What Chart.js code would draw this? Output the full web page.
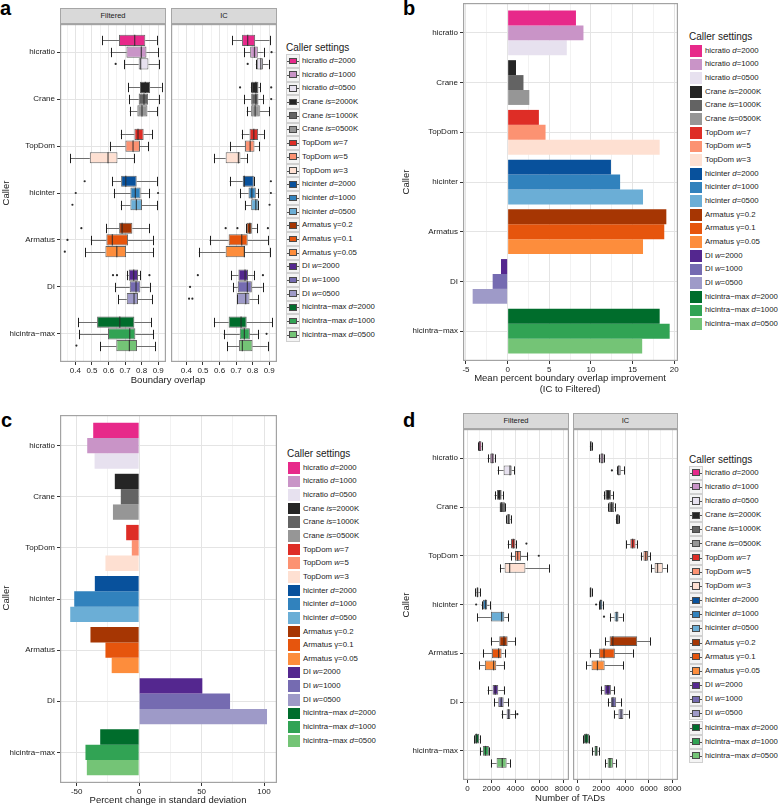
<!DOCTYPE html>
<html>
<head>
<meta charset="utf-8">
<title>TAD callers: boundary overlap, variability and TAD counts</title>
<script src="https://cdn.jsdelivr.net/npm/chart.js@4.4.1/dist/chart.umd.min.js"></script>
<style>
  body { margin: 0; width: 778px; height: 805px; position: relative; overflow: hidden; background: #fff;
         font-family: "Liberation Sans", Arial, sans-serif; color: #1a1a1a; }
  canvas, .txt, .ltxt, .strip, .key { position: absolute; }
  .letter { position: absolute; font-weight: bold; font-size: 20px; line-height: 20px; color: #000; }
  .txt { white-space: nowrap; line-height: 1; transform: translate(-50%, -50%); }
  .rot { transform: translate(-50%, -50%) rotate(-90deg); }
  .ltxt { white-space: nowrap; line-height: 1; transform: translateY(-50%); }
  .strip { background: #d9d9d9; border: 1px solid #a6a6a6; box-sizing: border-box; height: 16px;
           font-size: 7.5px; line-height: 14px; text-align: center; }
  .key { width: 14px; box-sizing: border-box; }
</style>
</head>
<body>
<div class="letter" style="left:0;top:-2px">a</div>
<div class="letter" style="left:403px;top:-2px">b</div>
<div class="letter" style="left:1px;top:410px">c</div>
<div class="letter" style="left:403px;top:410px">d</div>

<div class="strip" style="left:60px;top:8px;width:106px">Filtered</div>
<div class="strip" style="left:171px;top:8px;width:106px">IC</div>
<div class="strip" style="left:463px;top:413px;width:106px">Filtered</div>
<div class="strip" style="left:573px;top:413px;width:105px">IC</div>

<canvas id="aFilt" width="172" height="356" style="left:0;top:24px"></canvas>
<canvas id="aIC" width="112" height="356" style="left:171px;top:24px"></canvas>
<canvas id="bChart" width="296" height="375" style="left:390px;top:0"></canvas>
<canvas id="cChart" width="285" height="385" style="left:0;top:412px"></canvas>
<canvas id="dFilt" width="185" height="365" style="left:390px;top:429px"></canvas>
<canvas id="dIC" width="112" height="365" style="left:573px;top:429px"></canvas>

<div class="txt" style="left:168px;top:380px;font-size:9.5px">Boundary overlap</div>
<div class="txt" style="left:570px;top:378px;font-size:9.5px">Mean percent boundary overlap improvement</div>
<div class="txt" style="left:570px;top:389px;font-size:9.5px">(IC to Filtered)</div>
<div class="txt" style="left:168px;top:800px;font-size:9.5px">Percent change in standard deviation</div>
<div class="txt" style="left:570px;top:798px;font-size:9.5px">Number of TADs</div>
<div class="txt rot" style="left:6px;top:193px;font-size:9.5px">Caller</div>
<div class="txt rot" style="left:406px;top:182px;font-size:9.5px">Caller</div>
<div class="txt rot" style="left:6px;top:598px;font-size:9.5px">Caller</div>
<div class="txt rot" style="left:406px;top:605px;font-size:9.5px">Caller</div>

<script>
const callers = ['hicratio', 'Crane', 'TopDom', 'hicinter', 'Armatus', 'DI', 'hicintra\u2212max'];

// three settings per caller, in the order they are dodged (top to bottom)
const settingNames = [
  'hicratio <i>d</i>=2000', 'hicratio <i>d</i>=1000', 'hicratio <i>d</i>=0500',
  'Crane <i>is</i>=2000K', 'Crane <i>is</i>=1000K', 'Crane <i>is</i>=0500K',
  'TopDom <i>w</i>=7', 'TopDom <i>w</i>=5', 'TopDom <i>w</i>=3',
  'hicinter <i>d</i>=2000', 'hicinter <i>d</i>=1000', 'hicinter <i>d</i>=0500',
  'Armatus \u03b3=0.2', 'Armatus \u03b3=0.1', 'Armatus \u03b3=0.05',
  'DI <i>w</i>=2000', 'DI <i>w</i>=1000', 'DI <i>w</i>=0500',
  'hicintra\u2212max <i>d</i>=2000', 'hicintra\u2212max <i>d</i>=1000', 'hicintra\u2212max <i>d</i>=0500'
];
const settingColors = [
  '#e7298a', '#c994c7', '#e7e1ef',
  '#252525', '#636363', '#969696',
  '#de2d26', '#fc9272', '#fee0d2',
  '#08519c', '#3182bd', '#6baed6',
  '#a63603', '#e6550d', '#fd8d3c',
  '#54278f', '#756bb1', '#9e9ac8',
  '#006d2c', '#31a354', '#74c476'
];

// a: boundary overlap, [low whisker, q1, median, q3, high whisker] per setting
const overlapFiltered = [
  [0.563, 0.663, 0.758, 0.822, 0.891], [0.613, 0.708, 0.798, 0.829, 0.899], [0.694, 0.782, 0.794, 0.841, 0.905],
  [0.718, 0.790, 0.822, 0.851, 0.921], [0.724, 0.782, 0.814, 0.839, 0.905], [0.728, 0.774, 0.802, 0.835, 0.895],
  [0.674, 0.756, 0.778, 0.812, 0.863], [0.609, 0.702, 0.748, 0.790, 0.839], [0.370, 0.487, 0.597, 0.654, 0.754],
  [0.621, 0.676, 0.704, 0.770, 0.891], [0.631, 0.732, 0.762, 0.794, 0.843], [0.674, 0.732, 0.768, 0.802, 0.895],
  [0.587, 0.664, 0.682, 0.744, 0.843], [0.493, 0.587, 0.623, 0.718, 0.867], [0.460, 0.581, 0.650, 0.706, 0.871],
  [0.710, 0.722, 0.752, 0.778, 0.790], [0.639, 0.728, 0.766, 0.792, 0.849], [0.660, 0.710, 0.754, 0.778, 0.865],
  [0.416, 0.531, 0.668, 0.756, 0.857], [0.422, 0.597, 0.728, 0.762, 0.869], [0.551, 0.647, 0.726, 0.772, 0.883]
];
const overlapIC = [
  [0.677, 0.736, 0.770, 0.815, 0.902], [0.750, 0.785, 0.811, 0.831, 0.866], [0.819, 0.825, 0.849, 0.862, 0.896],
  [0.789, 0.791, 0.819, 0.835, 0.845], [0.750, 0.791, 0.819, 0.835, 0.862], [0.764, 0.791, 0.815, 0.843, 0.900],
  [0.734, 0.781, 0.807, 0.833, 0.868], [0.665, 0.754, 0.785, 0.811, 0.839], [0.566, 0.637, 0.714, 0.726, 0.766],
  [0.661, 0.740, 0.750, 0.807, 0.807], [0.722, 0.775, 0.795, 0.819, 0.835], [0.756, 0.791, 0.819, 0.835, 0.835],
  [0.762, 0.764, 0.783, 0.795, 0.825], [0.540, 0.655, 0.734, 0.770, 0.892], [0.475, 0.637, 0.750, 0.754, 0.904],
  [0.669, 0.714, 0.754, 0.772, 0.809], [0.683, 0.710, 0.768, 0.795, 0.860], [0.706, 0.706, 0.758, 0.781, 0.835],
  [0.566, 0.655, 0.730, 0.764, 0.918], [0.625, 0.722, 0.750, 0.783, 0.831], [0.647, 0.718, 0.738, 0.799, 0.890]
];
// outliers: [setting index, value]
const overlapFilteredOut = [[2, 0.643], [9, 0.456], [10, 0.402], [10, 0.899], [11, 0.382], [12, 0.436],
  [13, 0.352], [14, 0.336], [15, 0.627], [15, 0.651], [15, 0.847], [20, 0.406]];
const overlapICOut = [[1, 0.914], [2, 0.770], [3, 0.724], [3, 0.912], [4, 0.912], [9, 0.910], [10, 0.910],
  [11, 0.902], [12, 0.637], [12, 0.708], [12, 0.892], [15, 0.469], [15, 0.862], [16, 0.422],
  [17, 0.416], [17, 0.436], [19, 0.884]];

// b: mean percent boundary overlap improvement
const improvement = [8.2, 9.1, 7.1, 1.0, 1.9, 2.6, 3.75, 4.55, 18.25, 12.4, 13.5, 16.25,
  19.05, 18.8, 16.25, -0.8, -1.8, -4.2, 18.25, 19.45, 16.15];

// c: percent change in standard deviation
const sdChange = [-36.8, -41.6, -35.7, -19.5, -14.7, -21, -10.4, -5.9, -27, -35.5, -52, -55.2,
  -39, -27, -22, 50.6, 72.8, 102.4, -31.2, -43, -41.9];

// d: number of TADs
const tadsFiltered = [
  [892, 920, 1031, 1170, 1198], [1672, 1895, 2062, 2230, 2257], [2508, 3010, 3540, 3679, 3902],
  [2257, 2453, 2648, 2843, 2926], [2675, 2675, 2843, 3121, 3149], [3233, 3261, 3428, 3567, 3623],
  [3344, 3623, 3818, 3985, 4069], [3595, 3958, 4180, 4459, 4961], [2703, 3094, 3512, 4822, 6772],
  [669, 752, 836, 920, 1031], [1170, 1282, 1505, 1644, 1839], [836, 1951, 2843, 3066, 3400],
  [1951, 2648, 3038, 3344, 3958], [1310, 2035, 2592, 2843, 3094], [975, 1449, 2174, 2397, 3066],
  [1672, 2090, 2313, 2564, 3066], [2230, 2564, 2815, 3010, 3400], [2843, 3261, 3428, 3567, 3958],
  [557, 613, 752, 975, 1003], [1059, 1282, 1505, 1784, 1811], [1951, 2425, 2898, 3261, 3512]
];
const tadsIC = [
  [1048, 1076, 1131, 1186, 1214], [1793, 1931, 2069, 2207, 2235], [3311, 3366, 3476, 3642, 3890],
  [2207, 2345, 2566, 2814, 2980], [2566, 2621, 2869, 3090, 3145], [3228, 3256, 3366, 3504, 3531],
  [4111, 4442, 4635, 4883, 4994], [5325, 5546, 5739, 5932, 6097], [6208, 6484, 6732, 7173, 7504],
  [1021, 1021, 1104, 1186, 1186], [1821, 1848, 1959, 2097, 2124], [2731, 3118, 3311, 3449, 3807],
  [2345, 2704, 2980, 5022, 6125], [1021, 1821, 2235, 3145, 4635], [745, 1186, 1683, 2290, 3863],
  [1959, 2262, 2566, 2814, 3090], [2538, 2814, 2980, 3256, 3642], [3090, 3449, 3669, 3863, 4304],
  [497, 552, 745, 966, 993], [1242, 1435, 1573, 1711, 1793], [2345, 2538, 2731, 2980, 3200]
];
const tadsFilteredOut = [[6, 4905], [7, 5936], [10, 725], [17, 4150]];
const tadsICOut = [[2, 2897], [10, 1573], [11, 2235]];

Chart.defaults.font.family = '"Liberation Sans", Arial, sans-serif';
Chart.defaults.color = '#1a1a1a';

const MAJOR = '#e4e4e4', MINOR = '#f2f2f2';

// grey frame round each panel
const frame = {
  id: 'frame',
  afterDraw(chart) {
    const {ctx, chartArea: a} = chart;
    ctx.save();
    ctx.strokeStyle = '#a3a3a3';
    ctx.lineWidth = 1.2;
    ctx.strokeRect(a.left + 0.6, a.top + 0.6, a.width - 1.2, a.height - 1.2);
    ctx.restore();
  }
};

// whiskers, medians and outliers round the floating q1-q3 bars
function boxPlugin(rows, outliers) {
  return {
    id: 'boxes',
    beforeDatasetsDraw(chart) {
      const {ctx} = chart, x = chart.scales.x;
      ctx.save();
      ctx.lineWidth = 1;
      chart.data.datasets.forEach((ds, k) => {
        chart.getDatasetMeta(k).data.forEach((el, i) => {
          const r = rows[i * 3 + k], y = Math.round(el.y) + 0.5, cap = el.height * 0.42;
          ctx.strokeStyle = '#6e6e6e';
          ctx.beginPath();
          ctx.moveTo(x.getPixelForValue(r[0]), y); ctx.lineTo(x.getPixelForValue(r[1]), y);
          ctx.moveTo(x.getPixelForValue(r[3]), y); ctx.lineTo(x.getPixelForValue(r[4]), y);
          ctx.stroke();
          ctx.strokeStyle = '#1e1e1e';
          ctx.beginPath();
          [r[0], r[4]].forEach(v => {
            const px = Math.round(x.getPixelForValue(v)) + 0.5;
            ctx.moveTo(px, y - cap); ctx.lineTo(px, y + cap);
          });
          ctx.stroke();
        });
      });
      ctx.restore();
    },
    afterDatasetsDraw(chart) {
      const {ctx} = chart, x = chart.scales.x;
      ctx.save();
      chart.data.datasets.forEach((ds, k) => {
        chart.getDatasetMeta(k).data.forEach((el, i) => {
          const r = rows[i * 3 + k], px = x.getPixelForValue(r[2]);
          ctx.strokeStyle = 'rgba(40,40,40,0.8)';
          ctx.lineWidth = 1.2;
          ctx.beginPath();
          ctx.moveTo(px, el.y - el.height / 2); ctx.lineTo(px, el.y + el.height / 2);
          ctx.stroke();
        });
      });
      ctx.fillStyle = '#2a2a2a';
      outliers.forEach(([s, v]) => {
        const el = chart.getDatasetMeta(s % 3).data[Math.floor(s / 3)];
        ctx.beginPath();
        ctx.arc(x.getPixelForValue(v), el.y, 1.1, 0, Math.PI * 2);
        ctx.fill();
      });
      ctx.restore();
    }
  };
}

function levelSets(values, box, cp, bp) {
  return [0, 1, 2].map(k => ({
    data: callers.map((c, i) => {
      const v = values[i * 3 + k];
      return {x: box ? [v[1], v[3]] : v, y: i};
    }),
    backgroundColor: callers.map((c, i) => settingColors[i * 3 + k]),
    borderColor: box ? 'rgba(50,50,50,0.75)' : 'rgba(0,0,0,0)',
    borderWidth: box ? 1 : 0,
    borderSkipped: false,
    categoryPercentage: cp,
    barPercentage: bp
  }));
}

// ticks every `step` inside [min, max]; Chart.js stepSize misbehaves for large steps
function stepTicks(step) {
  return s => {
    const ticks = [];
    for (let v = Math.ceil(s.min / step - 1e-9) * step; v <= s.max + 1e-9; v += step) {
      ticks.push({value: Math.round(v * 1e6) / 1e6});
    }
    s.ticks = ticks;
  };
}

function makeChart(id, datasets, o, extra) {
  const isMajor = v => Math.abs(v / o.major - Math.round(v / o.major)) < 1e-6;
  return new Chart(document.getElementById(id), {
    type: 'bar',
    data: {datasets},
    options: {
      indexAxis: 'y',
      responsive: false,
      animation: false,
      layout: {padding: {left: 0, top: o.padTop || 0, right: o.padRight, bottom: 0}},
      plugins: {legend: {display: false}, tooltip: {enabled: false}},
      scales: {
        x: {
          type: 'linear', position: 'bottom', min: o.min, max: o.max, offset: false,
          afterBuildTicks: stepTicks(o.step),
          ticks: {autoSkip: false, maxRotation: 0, padding: 1, font: {size: 8}, color: '#1a1a1a',
                  callback: v => isMajor(v) ? o.fmt(v) : ''},
          grid: {offset: false, tickLength: 3,
                 color: c => isMajor(c.tick.value) ? MAJOR : MINOR,
                 tickColor: c => isMajor(c.tick.value) ? '#333' : 'rgba(0,0,0,0)'},
          border: {display: false},
          afterFit: s => { s.height = o.xHeight; s.paddingLeft = 0; s.paddingRight = 0; }
        },
        y: {
          type: 'linear', min: -0.6, max: 6.6, reverse: true, offset: false,
          afterBuildTicks: stepTicks(1),
          ticks: {autoSkip: false, display: o.yWidth > 0,
                  padding: 2, font: {size: 8}, color: '#1a1a1a', callback: v => callers[v]},
          grid: {offset: false, color: MAJOR, drawTicks: o.yWidth > 0, tickLength: 3, tickColor: '#333'},
          border: {display: false},
          afterFit: s => { s.width = o.yWidth; s.paddingTop = 0; s.paddingBottom = 0; }
        }
      }
    },
    plugins: [frame].concat(extra || [])
  });
}

const overlapAxis = {min: 0.307, max: 0.947, step: 0.05, major: 0.1, fmt: v => v.toFixed(1), xHeight: 18};
makeChart('aFilt', levelSets(overlapFiltered, true, 0.75, 0.95),
  Object.assign({yWidth: 60, padRight: 6}, overlapAxis), [boxPlugin(overlapFiltered, overlapFilteredOut)]);
makeChart('aIC', levelSets(overlapIC, true, 0.75, 0.95),
  Object.assign({yWidth: 0, padRight: 6}, overlapAxis), [boxPlugin(overlapIC, overlapICOut)]);

makeChart('bChart', levelSets(improvement, false, 0.9, 1),
  {min: -5.36, max: 20.45, step: 2.5, major: 5, fmt: v => String(Math.round(v)),
   xHeight: 14, yWidth: 73, padTop: 3, padRight: 8});

makeChart('cChart', levelSets(sdChange, false, 0.9, 1),
  {min: -63.4, max: 110.4, step: 25, major: 50, fmt: v => String(Math.round(v)),
   xHeight: 14, yWidth: 60, padTop: 3, padRight: 8});

const tadsAxis = {min: -370, max: 8450, step: 1000, major: 2000, fmt: v => String(Math.round(v)), xHeight: 14};
makeChart('dFilt', levelSets(tadsFiltered, true, 0.75, 0.8),
  Object.assign({yWidth: 73, padRight: 6}, tadsAxis), [boxPlugin(tadsFiltered, tadsFilteredOut)]);
makeChart('dIC', levelSets(tadsIC, true, 0.75, 0.8),
  Object.assign({yWidth: 0, padRight: 7}, tadsAxis), [boxPlugin(tadsIC, tadsICOut)]);

// legends
function addText(html, cls, left, top, size) {
  const d = document.createElement('div');
  d.className = cls;
  d.innerHTML = html;
  d.style.left = left + 'px';
  d.style.top = top + 'px';
  d.style.fontSize = size + 'px';
  document.body.appendChild(d);
}

function legend(left, titleY, firstY, step, boxKeys) {
  addText('Caller settings', 'ltxt', left, titleY, 10);
  settingNames.forEach((name, i) => {
    const cy = firstY + i * step, color = settingColors[i];
    const key = document.createElement('div');
    key.className = 'key';
    key.style.left = left + 'px';
    key.style.top = (cy - step / 2) + 'px';
    key.style.height = step + 'px';
    if (boxKeys) {
      key.style.background = '#f4f4f4';
      key.style.border = '1px solid #d0d0d0';
      key.innerHTML = '<div style="position:absolute;left:0;right:0;top:50%;height:1px;background:#555"></div>' +
        '<div style="position:absolute;left:2px;right:2px;top:2.5px;bottom:2.5px;background:' + color +
        ';border:1px solid #4a4a4a;box-sizing:border-box"></div>';
    } else {
      key.style.background = color;
      key.style.border = '1px solid #fff';
    }
    document.body.appendChild(key);
    addText(name, 'ltxt', left + 16, cy, 7.8);
  });
}

legend(286, 48, 61, 13.69, true);
legend(689, 37, 50.7, 13.67, false);
legend(287, 454, 467.7, 13.65, false);
legend(689, 460, 472.7, 14.16, true);
</script>
</body>
</html>
